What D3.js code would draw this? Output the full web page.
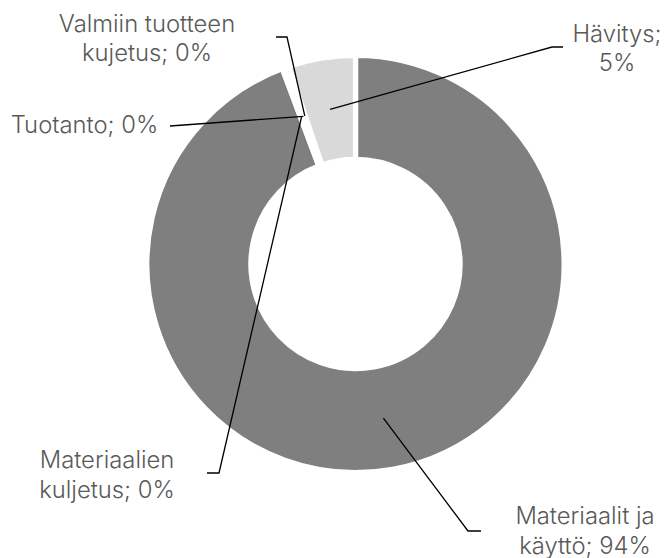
<!DOCTYPE html>
<html>
<head>
<meta charset="utf-8">
<script src="https://cdn.jsdelivr.net/npm/d3@7"></script>
<style>
  html, body { margin: 0; padding: 0; background: #fff; }
  svg { display: block; }
  .lbl { font-family: Inter, "Noto Sans", sans-serif; font-size: 23.8px; font-weight: 300; fill: #595959; }
</style>
</head>
<body>
<svg id="donut" width="664" height="558"></svg>
<script>
// data
const categories = ['Materiaalit ja käyttö', 'Materiaalien kuljetus', 'Tuotanto', 'Valmiin tuotteen kujetus', 'Hävitys'];
const values = [94.3, 0.2, 0.2, 0.1, 5.2];
const labelLines = [
    ['Materiaalit ja', 'käyttö; '],
    ['Materiaalien', 'kuljetus; '],
    ['Tuotanto; '],
    ['Valmiin tuotteen', 'kujetus; '],
    ['Hävitys;', '']
];

const sliceColors = ['#7f7f7f', '#7f7f7f', '#7f7f7f', '#7f7f7f', '#d9d9d9'];

const svg = d3.select('#donut');
const cx = 355.5, cy = 264;
const stroke = 5.3;
const outerR = 206 + stroke / 2;
const innerR = 107.2 - stroke / 2;

const g = svg.append('g')
    .attr('transform', `translate(${cx}, ${cy})`);

const pie = d3.pie()
    .value(d => d)
    .sort(null);

const arcs = pie(values);
const arc = d3.arc()
    .innerRadius(innerR)
    .outerRadius(outerR);

g.selectAll('path.slice')
    .data(arcs)
    .enter()
    .append('path')
    .attr('class', 'slice')
    .attr('d', arc)
    .attr('fill', (d, i) => sliceColors[i])
    .attr('stroke', '#fff')
    .attr('stroke-width', stroke)
    .attr('stroke-linejoin', 'miter');

// label layout (page coords): elbow points for leader and text block
const labelLayout = [
    {leader: [[468, 531], [481, 531]], x: 585, y: 524},
    {leader: [[219, 473], [207, 473]], x: 107, y: 468},
    {leader: [[170, 126]], x: 84.5, y: 132.5},
    {leader: [[287, 37], [276, 37]], x: 147, y: 31.7},
    {leader: [[552, 47], [563, 47]], x: 617, y: 41.7}
];
const lineH = 29.5;

arcs.forEach(function (d, i) {
    const c = arc.centroid(d);
    const pts = [[c[0] + cx, c[1] + cy]].concat(labelLayout[i].leader);
    svg.append('path')
        .attr('d', d3.line()(pts))
        .attr('fill', 'none')
        .attr('stroke', '#000')
        .attr('stroke-width', 1.3);

    const pct = Math.round(values[i]) + '%';
    const lines = labelLines[i].slice();
    lines[lines.length - 1] = lines[lines.length - 1] + pct;

    const t = svg.append('text')
        .attr('class', 'lbl')
        .attr('text-anchor', 'middle');
    lines.forEach(function (s, k) {
        t.append('tspan')
            .attr('x', labelLayout[i].x)
            .attr('y', labelLayout[i].y + k * lineH)
            .text(s);
    });
});
</script>
</body>
</html>
